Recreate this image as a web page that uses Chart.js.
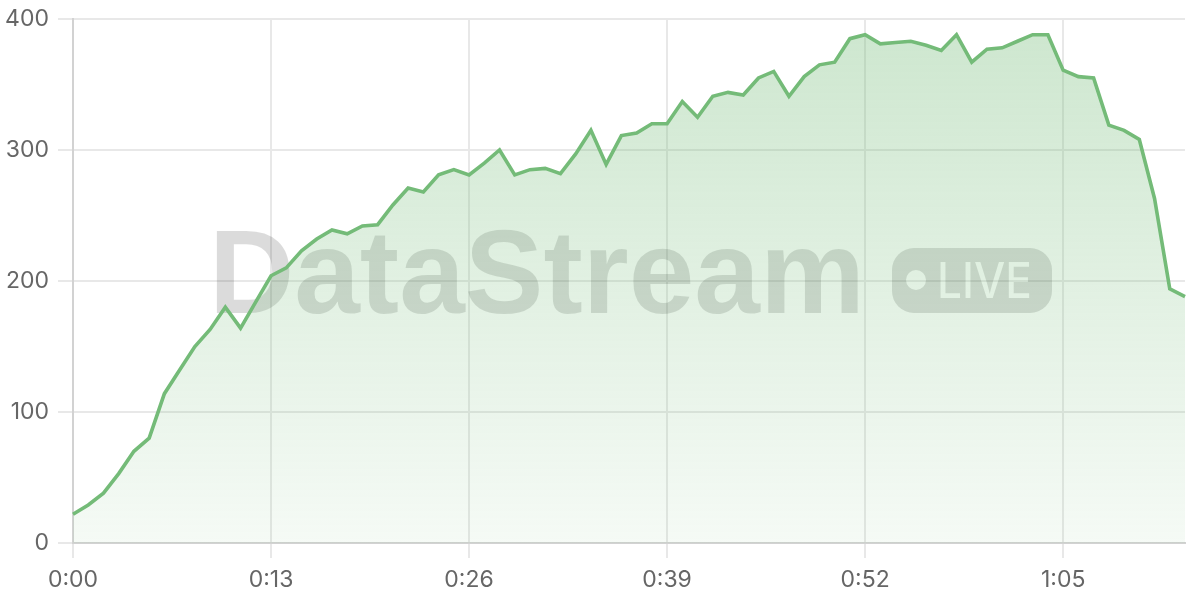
<!DOCTYPE html>
<html>
<head>
<meta charset="utf-8">
<style>
html,body{margin:0;padding:0;background:#fff;}
#wrap{width:1200px;height:600px;position:relative;}
</style>
<script src="https://cdn.jsdelivr.net/npm/chart.js@4/dist/chart.umd.min.js"></script>
</head>
<body>
<div id="wrap"><canvas id="c" width="1200" height="600"></canvas></div>
<script>
const timeLabels = [
  '0:00','0:01','0:02','0:03','0:04','0:05','0:06','0:07','0:08','0:09',
  '0:10','0:11','0:12','0:13','0:14','0:15','0:16','0:17','0:18','0:19',
  '0:20','0:21','0:22','0:23','0:24','0:25','0:26','0:27','0:28','0:29',
  '0:30','0:31','0:32','0:33','0:34','0:35','0:36','0:37','0:38','0:39',
  '0:40','0:41','0:42','0:43','0:44','0:45','0:46','0:47','0:48','0:49',
  '0:50','0:51','0:52','0:53','0:54','0:55','0:56','0:57','0:58','0:59',
  '1:00','1:01','1:02','1:03','1:04','1:05','1:06','1:07','1:08','1:09',
  '1:10','1:11','1:12','1:13'
];
const throughput = [
  22, 29, 38, 53, 70, 80, 114, 132, 150, 163,
  180, 164, 184, 204, 210, 223, 232, 239, 236, 242,
  243, 258, 271, 268, 281, 285, 281, 290, 300, 281,
  285, 286, 282, 297, 315, 289, 311, 313, 320, 320,
  337, 325, 341, 344, 342, 355, 360, 341, 356, 365,
  367, 385, 388, 381, 382, 383, 380, 376, 388, 367,
  377, 378, 383, 388, 388, 361, 356, 355, 319, 315,
  308, 263, 194, 188
];
const shownTimeTicks = ['0:00','0:13','0:26','0:39','0:52','1:05'];
const yMin = 0, yMax = 400, yStep = 100;
const watermarkText = 'DataStream';
const badgeText = 'LIVE';

const LINE = 'rgb(116,187,120)';

const watermarkPlugin = {
  id: 'watermark',
  beforeDatasetsDraw(chart) {
    const ctx = chart.ctx;
    ctx.save();
    ctx.fillStyle = 'rgba(0,0,0,0.14)';
    ctx.font = 'bold 118px "Liberation Sans", Arial, sans-serif';
    ctx.textBaseline = 'alphabetic';
    ctx.textAlign = 'left';
    ctx.fillText(watermarkText, 209, 313, 662);
    const w = 160, h = 65, r = 22;
    const off = document.createElement('canvas');
    off.width = w; off.height = h;
    const o = off.getContext('2d');
    o.fillStyle = '#000';
    o.beginPath();
    o.roundRect(0, 0, w, h, r);
    o.fill();
    o.globalCompositeOperation = 'destination-out';
    o.beginPath();
    o.arc(24, 32, 10, 0, Math.PI * 2);
    o.fill();
    o.font = '500 49px "Inter", "Liberation Sans", sans-serif';
    o.textBaseline = 'alphabetic';
    o.fillText(badgeText, 45, 50, 95);
    ctx.globalAlpha = 0.14;
    ctx.drawImage(off, 892, 248);
    ctx.restore();
  }
};

const ctx = document.getElementById('c').getContext('2d');
new Chart(ctx, {
  type: 'line',
  data: {
    labels: timeLabels,
    datasets: [{
      data: throughput,
      borderColor: LINE,
      borderWidth: 3.6,
      pointRadius: 0,
      tension: 0,
      fill: 'origin',
      backgroundColor: (c) => {
        const a = c.chart.chartArea;
        if (!a) return 'rgba(116,187,120,0.2)';
        const g = c.chart.ctx.createLinearGradient(0, a.top, 0, a.bottom);
        g.addColorStop(0, 'rgba(116,187,120,0.36)');
        g.addColorStop(1, 'rgba(116,187,120,0.07)');
        return g;
      }
    }]
  },
  options: {
    responsive: false,
    animation: false,
    devicePixelRatio: 1,
    layout: { padding: { left: 0, right: 15, top: 19, bottom: 0 } },
    plugins: { legend: { display: false }, tooltip: { enabled: false } },
    scales: {
      x: {
        offset: false,
        afterFit: (s) => { s.height = 57; s.paddingLeft = 0; s.paddingRight = 0; },
        border: { color: '#d2d2d2', width: 2 },
        grid: {
          color: (c) => shownTimeTicks.includes(timeLabels[c.index]) ? '#e8e8e8' : 'rgba(0,0,0,0)',
          lineWidth: 2,
          tickLength: 15,
          tickColor: (c) => shownTimeTicks.includes(timeLabels[c.index]) ? '#e8e8e8' : 'rgba(0,0,0,0)'
        },
        ticks: {
          autoSkip: false,
          maxRotation: 0,
          padding: 8,
          color: '#666',
          font: { family: 'Inter', size: 23 },
          callback: (v, i) => shownTimeTicks.includes(timeLabels[i]) ? timeLabels[i] : ''
        }
      },
      y: {
        min: yMin, max: yMax,
        afterFit: (s) => { s.width = 73; s.paddingTop = 0; s.paddingBottom = 0; },
        border: { color: '#d2d2d2', width: 2 },
        grid: { color: '#e8e8e8', lineWidth: 2, tickLength: 15 },
        ticks: {
          stepSize: yStep,
          padding: 9,
          color: '#666',
          font: { family: 'Inter', size: 23 }
        }
      }
    }
  },
  plugins: [watermarkPlugin]
});
</script>
</body>
</html>
